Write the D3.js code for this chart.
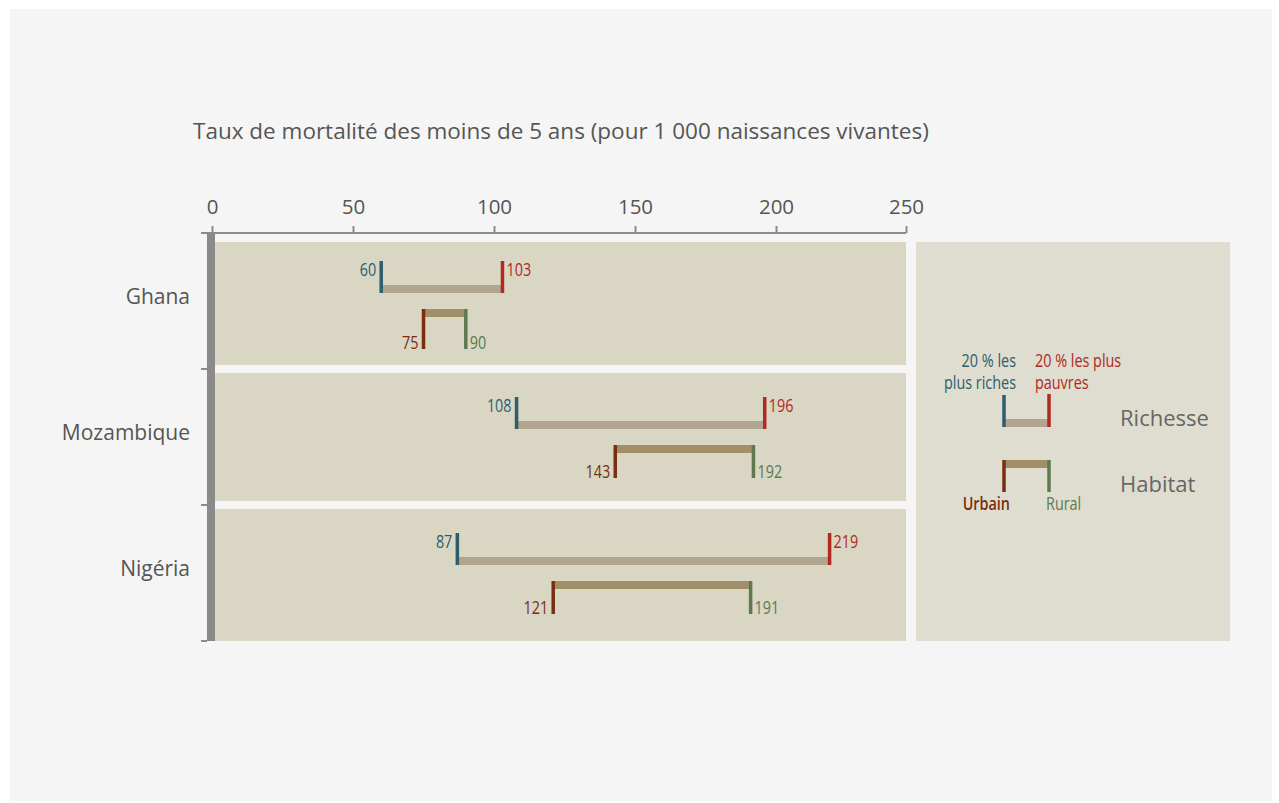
<!DOCTYPE html>
<html>
<head>
<meta charset="utf-8">
<script src="https://cdn.jsdelivr.net/npm/d3@7"></script>
<style>
  html, body { margin: 0; padding: 0; background: #ffffff; }
  svg { display: block; }
  .cond { font-family: "Open Sans", "Noto Sans", "DejaVu Sans", sans-serif; }
  .main { font-family: "Open Sans", "Noto Sans", "DejaVu Sans", sans-serif; }
</style>
</head>
<body>
<svg id="chart" width="1279" height="803"></svg>
<script>
// ---- data ----
const countries = ["Ghana", "Mozambique", "Nigéria"];
const richest   = [60, 108, 87];
const poorest   = [103, 196, 219];
const urban     = [75, 143, 121];
const rural     = [90, 192, 191];
const tickValues = [0, 50, 100, 150, 200, 250];
const titleText = "Taux de mortalité des moins de 5 ans (pour 1 000 naissances vivantes)";
const legendRich = ["20 % les", "plus riches"];
const legendPoor = ["20 % les plus", "pauvres"];
const legendUrban = "Urbain";
const legendRural = "Rural";
const legendWealth = "Richesse";
const legendHabitat = "Habitat";

// ---- styles ----
const C = {
  page: "#f4f5f4", band: "#d9d6c4", legendBg: "#dfddcf", axis: "#8a8a8a", text: "#555555",
  rich: "#2d5e6c", poor: "#b02a22", urban: "#7b2d12", rural: "#5d7a4f",
  wealthBar: "#b1a58f", habitatBar: "#a28e68"
};
const SX = 0.8;      // horizontal condensation of small labels
const FS = 18;       // small label font size

const svg = d3.select("#chart");
svg.append("rect").attr("x", 10).attr("y", 9).attr("width", 1262).attr("height", 792).attr("fill", C.page);

function ctext(g, px, py, anchor, color, txt, weight) {
  return g.append("text").attr("class", "cond")
    .attr("transform", `translate(${px},${py}) scale(${SX},1)`)
    .attr("text-anchor", anchor).attr("font-size", FS)
    .attr("font-weight", weight || "normal").attr("fill", color).text(txt);
}

// scales
const x = d3.scaleLinear().domain([0, 200]).range([212, 776]);
const xAxisScale = d3.scaleLinear().domain([0, 200, 250]).range([212, 776, 906]);
const y = d3.scaleBand().domain(countries).range([233, 641]).paddingInner(0).paddingOuter(0);
const bw = y.bandwidth();

// band backgrounds
countries.forEach((c, i) => {
  const top = y(c) + (i === 0 ? 9 : 4);
  const bot = y(c) + bw - (i === countries.length - 1 ? 0 : 4);
  svg.append("rect").attr("x", 215).attr("y", top).attr("width", 906 - 215).attr("height", bot - top).attr("fill", C.band);
});

// legend background
svg.append("rect").attr("x", 916).attr("y", 242).attr("width", 314).attr("height", 399).attr("fill", C.legendBg);

// title
svg.append("text").attr("class", "main").attr("x", 193).attr("y", 139)
  .attr("font-size", 22.5).attr("fill", C.text).text(titleText);

// top axis
const gx = svg.append("g").attr("transform", "translate(0,233)")
  .call(d3.axisTop(xAxisScale).tickValues(tickValues).tickSize(7).tickSizeOuter(0).tickPadding(12));
gx.selectAll("path, line").attr("stroke", C.axis).attr("stroke-width", 2);
gx.select(".domain").attr("d", `M201,0H906`);
gx.selectAll("text").attr("class", "main").attr("font-size", 20.5).attr("fill", C.text);

// left axis
const gy = svg.append("g").attr("transform", "translate(211,0)");
gy.append("rect").attr("x", -4).attr("y", 233).attr("width", 8).attr("height", 641 - 233).attr("fill", C.axis);
const bounds = countries.map(c => y(c)).concat([y(countries[countries.length - 1]) + bw]);
gy.selectAll("line.b").data(bounds.slice(1)).enter().append("line")
  .attr("x1", -10).attr("x2", -4).attr("y1", d => d).attr("y2", d => d)
  .attr("stroke", C.axis).attr("stroke-width", 2);
svg.selectAll("text.country").data(countries).enter().append("text")
  .attr("class", "main").attr("x", 190).attr("y", d => y(d) + bw / 2 - 3)
  .attr("text-anchor", "end").attr("dominant-baseline", "middle")
  .attr("font-size", 21).attr("fill", C.text).text(d => d);

// marks
countries.forEach((c, i) => {
  const b = y(c);
  const g = svg.append("g");
  // wealth
  const wTop = b + 28, wBot = b + 60;
  g.append("rect").attr("x", x(richest[i])).attr("y", wBot - 8)
    .attr("width", x(poorest[i]) - x(richest[i])).attr("height", 8).attr("fill", C.wealthBar);
  g.append("rect").attr("x", x(richest[i]) - 1.75).attr("y", wTop).attr("width", 3.5).attr("height", wBot - wTop).attr("fill", C.rich);
  g.append("rect").attr("x", x(poorest[i]) - 1.75).attr("y", wTop).attr("width", 3.5).attr("height", wBot - wTop).attr("fill", C.poor);
  ctext(g, x(richest[i]) - 5, wTop + 15, "end", C.rich, richest[i]);
  ctext(g, x(poorest[i]) + 4, wTop + 15, "start", C.poor, poorest[i]);
  // habitat
  const hTop = b + 76, hBot = hTop + (i === 0 ? 40 : 33);
  g.append("rect").attr("x", x(urban[i])).attr("y", hTop)
    .attr("width", x(rural[i]) - x(urban[i])).attr("height", 8).attr("fill", C.habitatBar);
  g.append("rect").attr("x", x(urban[i]) - 1.75).attr("y", hTop).attr("width", 3.5).attr("height", hBot - hTop).attr("fill", C.urban);
  g.append("rect").attr("x", x(rural[i]) - 1.75).attr("y", hTop).attr("width", 3.5).attr("height", hBot - hTop).attr("fill", C.rural);
  ctext(g, x(urban[i]) - 5, hBot, "end", C.urban, urban[i]);
  ctext(g, x(rural[i]) + 4, hBot, "start", C.rural, rural[i]);
});

// legend
const L = svg.append("g");
const lx1 = 1004, lx2 = 1049;
legendRich.forEach((t, k) => ctext(L, 1016, 367 + k * 22, "end", C.rich, t));
legendPoor.forEach((t, k) => ctext(L, 1035, 367 + k * 22, "start", C.poor, t));
L.append("rect").attr("x", lx1).attr("y", 419).attr("width", lx2 - lx1).attr("height", 8).attr("fill", C.wealthBar);
L.append("rect").attr("x", lx1 - 1.75).attr("y", 395).attr("width", 3.5).attr("height", 32).attr("fill", C.rich);
L.append("rect").attr("x", lx2 - 1.75).attr("y", 394).attr("width", 3.5).attr("height", 33).attr("fill", C.poor);
L.append("text").attr("class", "main").attr("x", 1120).attr("y", 426).attr("font-size", 22).attr("fill", "#666").text(legendWealth);

L.append("rect").attr("x", lx1).attr("y", 460).attr("width", lx2 - lx1).attr("height", 8).attr("fill", C.habitatBar);
L.append("rect").attr("x", lx1 - 1.75).attr("y", 460).attr("width", 3.5).attr("height", 32).attr("fill", C.urban);
L.append("rect").attr("x", lx2 - 1.75).attr("y", 460).attr("width", 3.5).attr("height", 32).attr("fill", C.rural);
ctext(L, 1010, 510, "end", C.urban, legendUrban, 600);
ctext(L, 1046, 510, "start", C.rural, legendRural);
L.append("text").attr("class", "main").attr("x", 1120).attr("y", 492).attr("font-size", 22).attr("fill", "#666").text(legendHabitat);
</script>
</body>
</html>
